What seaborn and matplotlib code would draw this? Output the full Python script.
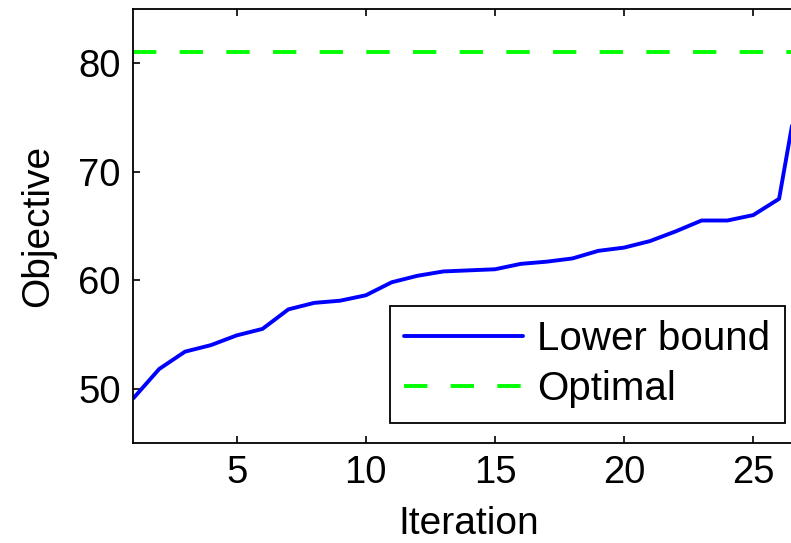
import numpy as np
import pandas as pd
import matplotlib
matplotlib.use("Agg")
import matplotlib.pyplot as plt
import seaborn as sns

sns.set_style("ticks")
plt.rcParams["font.family"] = ["Liberation Sans", "DejaVu Sans"]
plt.rcParams["text.color"] = "black"
plt.rcParams["axes.labelcolor"] = "black"
plt.rcParams["xtick.color"] = "black"
plt.rcParams["ytick.color"] = "black"

# -----------------------------
# DATA
# -----------------------------
iterations = list(range(1, 28))
lower_bound = [49.1, 51.8, 53.4, 54.0, 54.9, 55.5, 57.3, 57.9, 58.1, 58.6,
               59.8, 60.4, 60.8, 60.9, 61.0, 61.5, 61.7, 62.0, 62.7, 63.0,
               63.6, 64.5, 65.5, 65.5, 66.0, 67.5, 81.0]
optimal = 81.0

df = pd.DataFrame({"Iteration": iterations, "Objective": lower_bound})

# -----------------------------
# PLOT
# -----------------------------
fig = plt.figure(figsize=(7.91, 5.43), dpi=100)
# axes run past the right edge, like the cropped original
ax = fig.add_axes([0.1686, 0.1847, 0.849, 0.7985])

sns.lineplot(data=df, x="Iteration", y="Objective", ax=ax,
             color="#0000ff", linewidth=2.8, label="Lower bound")
ax.axhline(optimal, color="#00ff00", linewidth=2.8, dashes=(6, 6),
           label="Optimal")

ax.set_xlim(1, 27)
ax.set_ylim(45, 85)
ax.set_xticks([5, 10, 15, 20, 25])
ax.set_yticks([50, 60, 70, 80])
ax.set_xlabel("Iteration", fontsize=28, labelpad=11)
ax.set_ylabel("Objective", fontsize=28, labelpad=16)
ax.tick_params(direction="in", length=5, width=1.2, labelsize=27.5,
               pad=9, top=True, right=True)
for s in ax.spines.values():
    s.set_linewidth(1.3)
    s.set_color("black")

leg = ax.legend(loc="lower right", bbox_to_anchor=(0.9924, 0.2215),
                bbox_transform=fig.transFigure, borderaxespad=0,
                fontsize=29, handlelength=2.95, handletextpad=0.35,
                labelspacing=0.3, borderpad=0.36, fancybox=False,
                frameon=True, edgecolor="black", framealpha=1)
leg.get_frame().set_linewidth(1.3)

fig.savefig("out.png", dpi=100)
